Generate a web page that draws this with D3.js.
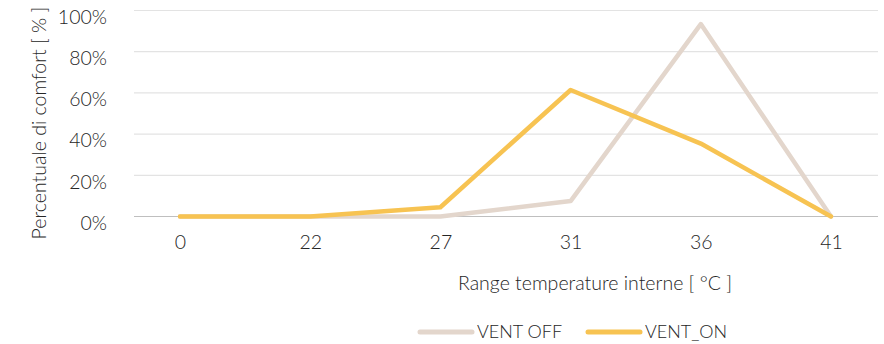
<!DOCTYPE html>
<html>
<head>
<meta charset="utf-8">
<script src="https://cdn.jsdelivr.net/npm/d3@7"></script>
<style>
  html, body { margin: 0; padding: 0; background: #fff; }
  svg text { font-family: Lato, "Open Sans", sans-serif; font-weight: 300; fill: #262626; }
</style>
</head>
<body>
<svg id="chart" width="884" height="344"></svg>
<script>
// Temperature ranges (°C) and comfort share for each ventilation mode
const categories = ["0", "22", "27", "31", "36", "41"];
const ventOff = [0, 0, 0, 0.075, 0.934, 0];
const ventOn  = [0, 0, 0.045, 0.614, 0.354, 0];
const yTicks  = [0, 0.2, 0.4, 0.6, 0.8, 1.0];
const seriesNames = ["VENT OFF", "VENT_ON"];
const seriesColors = ["#e3d6cc", "#f7c352"];

const svg = d3.select("#chart");
const plotLeft = 134, plotRight = 878;

const x = d3.scalePoint().domain(categories).range([180, 831]);
const y = d3.scaleLinear().domain([0, 1]).range([216.5, 10.5]);

// horizontal gridlines
svg.append("g")
  .selectAll("line")
  .data(yTicks.filter(d => d > 0))
  .join("line")
  .attr("x1", plotLeft).attr("x2", plotRight)
  .attr("y1", d => y(d)).attr("y2", d => y(d))
  .attr("stroke", "#e3e3e3").attr("stroke-width", 1.2);

// baseline
svg.append("line")
  .attr("x1", plotLeft).attr("x2", plotRight)
  .attr("y1", y(0)).attr("y2", y(0))
  .attr("stroke", "#bfbfbf").attr("stroke-width", 1.2);

// y axis labels (sit slightly below their gridlines)
const yAxis = d3.axisLeft(y).tickValues(yTicks).tickFormat(d3.format(".0%")).tickSize(0).tickPadding(0);
const gy = svg.append("g").attr("transform", "translate(107,6)").call(yAxis);
gy.select(".domain").remove();
gy.selectAll("text").attr("font-size", 19.5).attr("font-family", "Lato, sans-serif").attr("fill", "#262626").attr("text-anchor", "end").attr("dy", "0.35em");

// x axis labels
const xAxis = d3.axisBottom(x).tickSize(0).tickPadding(0);
const gx = svg.append("g").attr("transform", "translate(0,235)").call(xAxis);
gx.select(".domain").remove();
gx.selectAll("text").attr("font-size", 19.5).attr("font-family", "Lato, sans-serif").attr("fill", "#262626").attr("dy", "0.71em");

// lines
const line = d3.line().x((d, i) => x(categories[i])).y(d => y(d));
[ventOff, ventOn].forEach((vals, i) => {
  svg.append("path")
    .datum(vals)
    .attr("d", line)
    .attr("fill", "none")
    .attr("stroke", seriesColors[i])
    .attr("stroke-width", 4.5)
    .attr("stroke-linejoin", "round")
    .attr("stroke-linecap", "round");
});

// axis titles
svg.append("text")
  .attr("x", 595).attr("y", 290)
  .attr("text-anchor", "middle")
  .attr("font-size", 19.5)
  .text("Range temperature interne [ °C ]");

svg.append("text")
  .attr("transform", "translate(46,123) rotate(-90)")
  .attr("text-anchor", "middle")
  .attr("font-size", 19.5)
  .text("Percentuale di comfort [ % ]");

// legend
const legendX = [418, 586];
seriesNames.forEach((name, i) => {
  const g = svg.append("g").attr("transform", `translate(${legendX[i]},332)`);
  g.append("line")
    .attr("x1", 2).attr("x2", 54).attr("y1", 0).attr("y2", 0)
    .attr("stroke", seriesColors[i]).attr("stroke-width", 5).attr("stroke-linecap", "round");
  g.append("text")
    .attr("x", 59).attr("y", 0).attr("dy", "0.35em")
    .attr("font-size", 18)
    .text(name);
});
</script>
</body>
</html>
